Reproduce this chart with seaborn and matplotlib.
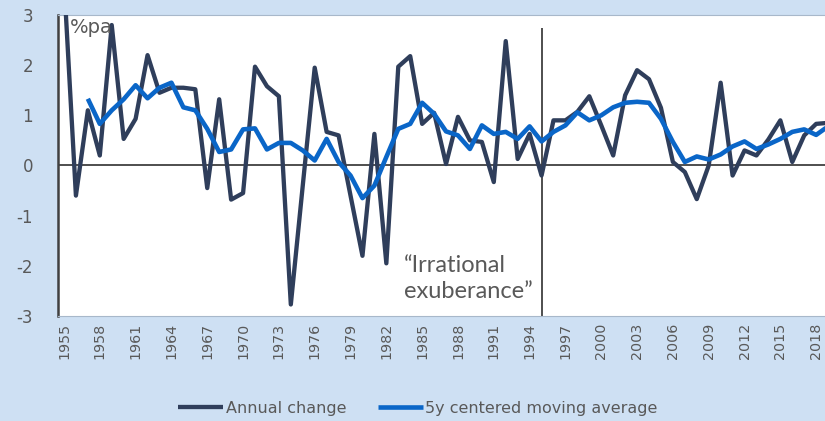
import numpy as np
import pandas as pd
import matplotlib
matplotlib.use("Agg")
import matplotlib.pyplot as plt
import seaborn as sns

years = list(range(1955, 2020))
annual_change = [3.7, -0.6, 1.1, 0.2, 2.8, 0.53, 0.93, 2.2, 1.45, 1.55,
                 1.55, 1.52, -0.45, 1.32, -0.68, -0.55, 1.97, 1.58, 1.38, -2.77,
                 -0.4, 1.95, 0.67, 0.6, -0.6, -1.8, 0.63, -1.95, 1.97, 2.18,
                 0.83, 1.05, 0.03, 0.97, 0.5, 0.47, -0.33, 2.48, 0.13, 0.63,
                 -0.2, 0.9, 0.9, 1.07, 1.38, 0.8, 0.2, 1.4, 1.9, 1.72,
                 1.15, 0.07, -0.13, -0.67, 0.0, 1.65, -0.2, 0.3, 0.2, 0.52,
                 0.9, 0.07, 0.6, 0.83, 0.85]
moving_avg = [np.nan, np.nan, 1.33, 0.83, 1.1, 1.32, 1.6, 1.34, 1.55, 1.65,
              1.16, 1.1, 0.73, 0.27, 0.32, 0.72, 0.74, 0.32, 0.45, 0.45,
              0.3, 0.1, 0.53, 0.07, -0.2, -0.65, -0.4, 0.17, 0.73, 0.83,
              1.25, 1.03, 0.68, 0.6, 0.33, 0.8, 0.63, 0.67, 0.53, 0.78,
              0.48, 0.67, 0.8, 1.06, 0.9, 1.0, 1.16, 1.25, 1.27, 1.25,
              0.93, 0.47, 0.07, 0.18, 0.12, 0.22, 0.38, 0.48, 0.33, 0.42,
              0.53, 0.67, 0.72, 0.61, 0.78]
tick_years = list(range(1955, 2019, 3))
series_names = ["Annual change", "5y centered moving average"]
yticks = [-3, -2, -1, 0, 1, 2, 3]

df = pd.DataFrame({"year": years, "annual": annual_change, "ma": moving_avg})

sns.set_theme(style="white")
plt.rcParams["font.family"] = ["DejaVu Sans"]
plt.rcParams["lines.solid_joinstyle"] = "round"
plt.rcParams["lines.solid_capstyle"] = "butt"

BG = "#CEE0F3"
DARK = "#2F3E5B"
BLUE = "#0A66C8"
GRAY = "#595959"

fig = plt.figure(figsize=(8.25, 4.21), dpi=100, facecolor=BG)
ax = fig.add_axes([58 / 825, 1 - 316 / 421, 1 - 58 / 825, (316 - 15) / 421])
ax.set_facecolor("white")

ax.axhline(0, color="#404040", lw=1.3, zorder=1)
ax.axvline(1995, ymin=0, ymax=(2.75 + 3) / 6, color="#404040", lw=1.3, zorder=1)

sns.lineplot(data=df, x="year", y="annual", ax=ax, color=DARK, lw=3.1,
             label=series_names[0], zorder=3)
sns.lineplot(data=df, x="year", y="ma", ax=ax, color=BLUE, lw=3.3,
             label=series_names[1], zorder=4)

ax.set_xlim(1954.5, 2018.74)
ax.set_ylim(-3, 3)
ax.set_yticks(yticks)
ax.set_yticklabels([str(v) for v in yticks], fontsize=12, color=GRAY)
ax.set_xticks(tick_years)
ax.set_xticklabels([str(y) for y in tick_years], rotation=90, fontsize=10.3,
                   color=GRAY, va="top")
ax.tick_params(axis="both", length=0)
ax.tick_params(axis="y", pad=18)
ax.tick_params(axis="x", pad=5)
ax.set_xlabel("")
ax.set_ylabel("")

for s in ["top", "bottom"]:
    ax.spines[s].set_color("#A8B8CA")
    ax.spines[s].set_linewidth(0.8)
ax.spines["right"].set_visible(False)
ax.spines["left"].set_color("#404040")
ax.spines["left"].set_linewidth(1.8)

ax.text(0.016, 0.99, "%pa", transform=ax.transAxes, ha="left", va="top",
        fontsize=14, color=GRAY)
ax.text(1983.5, -2.25, "\u201cIrrational\nexuberance\u201d", ha="left", va="center",
        fontsize=17, color=GRAY, family=["Lato", "DejaVu Sans"], linespacing=1.28)

ax.legend_.remove()
handles, labels = ax.get_legend_handles_labels()
fig.legend(handles, labels, loc="center", bbox_to_anchor=(418 / 825, 1 - 408 / 421),
           ncol=2, frameon=False, fontsize=11.5, handlelength=2.8, handletextpad=0.15,
           columnspacing=2.0, labelcolor=GRAY)

fig.savefig("out.png", dpi=100, facecolor=BG)
